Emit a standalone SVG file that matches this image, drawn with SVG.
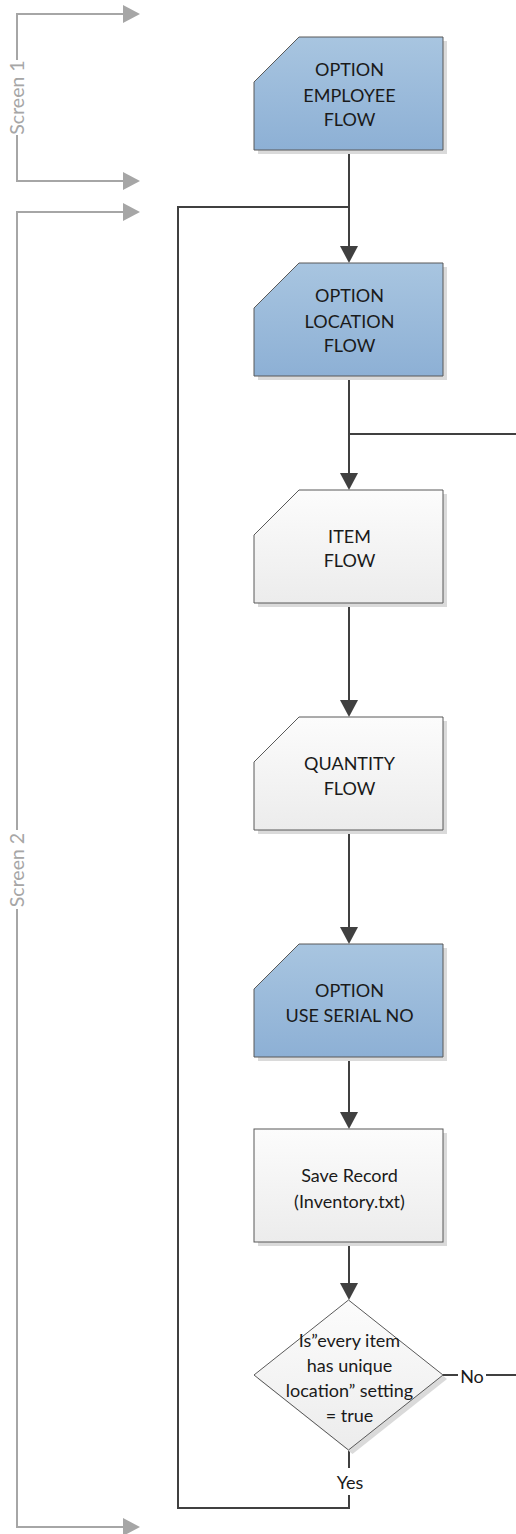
<svg xmlns="http://www.w3.org/2000/svg" xmlns:xlink="http://www.w3.org/1999/xlink" width="516" height="1534" viewBox="0 0 516 1534">
<style>
  .lbl { font-family: Lato, "Liberation Sans", "DejaVu Sans", sans-serif; font-size: 18px; fill: #1a1a1a; text-anchor: middle; }
  .scr { font-family: Lato, "Liberation Sans", "DejaVu Sans", sans-serif; font-size: 19.5px; fill: #a6a6a6; text-anchor: middle; }
  .blue { fill: url(#gBlue); stroke: #595959; stroke-width: 1; }
  .grey { fill: url(#gGrey); stroke: #595959; stroke-width: 1; }
  .shadow { fill: #dadada; stroke: none; }
  .conn { fill: none; stroke: #404040; stroke-width: 2; }
  .arr { marker-end: url(#ahDark); }
  .brk { fill: none; stroke: #a6a6a6; stroke-width: 2; }
  .brkArr { marker-end: url(#ahGrey); }
</style>
<defs>
  <linearGradient id="gBlue" x1="0" y1="0" x2="0" y2="1">
    <stop offset="0" stop-color="#a8c5e0"/>
    <stop offset="1" stop-color="#8db0d5"/>
  </linearGradient>
  <linearGradient id="gGrey" x1="0" y1="0" x2="0" y2="1">
    <stop offset="0" stop-color="#fcfcfc"/>
    <stop offset="1" stop-color="#ececec"/>
  </linearGradient>
  <path id="cut" d="M0,45 L45,0 H189 V113 H0 Z"/>
  <rect id="box" x="0" y="0" width="189" height="113"/>
  <path id="dia" d="M94.5,0 L189,75 L94.5,150 L0,75 Z"/>
  <marker id="ahDark" markerUnits="userSpaceOnUse" markerWidth="18" markerHeight="18" refX="9" refY="9" orient="auto" viewBox="0 0 18 18">
    <path d="M0,0 L17,9 L0,18 Z" fill="#404040"/>
  </marker>
  <marker id="ahGrey" markerUnits="userSpaceOnUse" markerWidth="18" markerHeight="18" refX="9" refY="9" orient="auto" viewBox="0 0 18 18">
    <path d="M0,0 L17,9 L0,18 Z" fill="#a6a6a6"/>
  </marker>
</defs>

<g id="screen1">
  <path class="brk brkArr" d="M17,60 V14 H132"/>
  <path class="brk brkArr" d="M17,135 V181 H132"/>
  <text class="scr" transform="translate(24,97.5) rotate(-90)">Screen 1</text>
</g>
<g id="screen2">
  <path class="brk brkArr" d="M17,830 V212 H132"/>
  <path class="brk brkArr" d="M17,909 V1527 H132"/>
  <text class="scr" transform="translate(24,870) rotate(-90)">Screen 2</text>
</g>

<g id="connectors">
  <path class="conn arr" d="M349,150 V255"/>
  <path class="conn" d="M349,1450 V1468 M349,1495 V1508 H178 V207 H349"/>
  <path class="conn arr" d="M349,377 V482"/>
  <path class="conn" d="M349,434 H516"/>
  <path class="conn arr" d="M349,604 V709"/>
  <path class="conn arr" d="M349,831 V936"/>
  <path class="conn arr" d="M349,1057 V1121"/>
  <path class="conn arr" d="M349,1242 V1292"/>
  <path class="conn" d="M443,1375 H458 M486,1375 H516"/>
  <text class="lbl" x="472" y="1383">No</text>
  <text class="lbl" x="350" y="1489">Yes</text>
</g>

<g id="optEmployee">
  <use xlink:href="#cut" class="shadow" x="258" y="41"/>
  <use xlink:href="#cut" class="blue" x="254" y="37"/>
  <text class="lbl" x="349.5" y="76">OPTION</text>
  <text class="lbl" x="349.5" y="101.5">EMPLOYEE</text>
  <text class="lbl" x="349.5" y="126">FLOW</text>
</g>
<g id="optLocation">
  <use xlink:href="#cut" class="shadow" x="258" y="267"/>
  <use xlink:href="#cut" class="blue" x="254" y="263"/>
  <text class="lbl" x="349.5" y="302">OPTION</text>
  <text class="lbl" x="349.5" y="327.5">LOCATION</text>
  <text class="lbl" x="349.5" y="352">FLOW</text>
</g>
<g id="itemFlow">
  <use xlink:href="#cut" class="shadow" x="258" y="494"/>
  <use xlink:href="#cut" class="grey" x="254" y="490"/>
  <text class="lbl" x="349.5" y="542.5">ITEM</text>
  <text class="lbl" x="349.5" y="567">FLOW</text>
</g>
<g id="quantityFlow">
  <use xlink:href="#cut" class="shadow" x="258" y="721"/>
  <use xlink:href="#cut" class="grey" x="254" y="717"/>
  <text class="lbl" x="349.5" y="770">QUANTITY</text>
  <text class="lbl" x="349.5" y="794.5">FLOW</text>
</g>
<g id="optSerial">
  <use xlink:href="#cut" class="shadow" x="258" y="948"/>
  <use xlink:href="#cut" class="blue" x="254" y="944"/>
  <text class="lbl" x="349.5" y="997">OPTION</text>
  <text class="lbl" x="349.5" y="1021.5">USE SERIAL NO</text>
</g>
<g id="saveRecord">
  <use xlink:href="#box" class="shadow" x="258" y="1133"/>
  <use xlink:href="#box" class="grey" x="254" y="1129"/>
  <text class="lbl" x="349.5" y="1182">Save Record</text>
  <text class="lbl" x="349.5" y="1208">(Inventory.txt)</text>
</g>
<g id="decision">
  <use xlink:href="#dia" class="shadow" x="258" y="1304"/>
  <use xlink:href="#dia" class="grey" x="254" y="1300"/>
  <text class="lbl" x="349.5" y="1347">Is”every item</text>
  <text class="lbl" x="349.5" y="1372">has unique</text>
  <text class="lbl" x="349.5" y="1397">location” setting</text>
  <text class="lbl" x="349.5" y="1422">= true</text>
</g>
</svg>
